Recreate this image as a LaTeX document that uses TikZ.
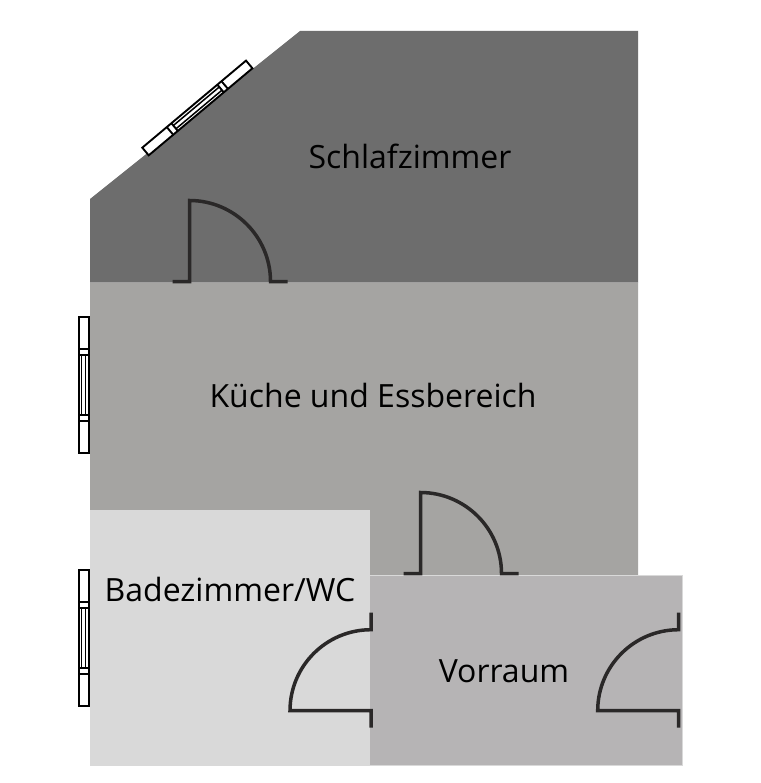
\documentclass[tikz,border=0pt]{standalone}
\usepackage{fontspec}
\setmainfont{Open Sans}
\definecolor{schlaf}{HTML}{6D6D6D}
\definecolor{kueche}{HTML}{A5A4A2}
\definecolor{bad}{HTML}{D9D9D9}
\definecolor{vor}{HTML}{B6B4B5}
\definecolor{ink}{HTML}{2A2828}
\tikzset{
  roomlabel/.style={font=\fontsize{32}{38}\selectfont, text=black, inner sep=0pt},
  doorline/.style={draw=ink, line width=3.5pt, line join=miter},
  winline/.style={draw=black, line width=1.9pt},
  wininner/.style={draw=black, line width=1.5pt},
  doorsym/.pic={
    \draw[doorline] (-17,0) -- (0,0) -- (0,-81) .. controls (44.7,-81) and (81,-44.7) .. (81,0) -- (98,0);
  },
  winsym/.pic={
    \fill[white] (0,-5) rectangle (135.4,5);
    \draw[winline] (0,-5) rectangle (135.4,5);
    \draw[winline] (32,-5) -- (32,5) (38,-5) -- (38,5) (98,-5) -- (98,5) (103.4,-5) -- (103.4,5);
    \draw[wininner] (38,-2) -- (98,-2) (38,2.2) -- (98,2.2);
  }
}
\begin{document}
\begin{tikzpicture}[x=1pt,y=-1pt]
\useasboundingbox (0,0) rectangle (760,783);
\fill[white] (0,0) rectangle (760,783);
% rooms
\fill[schlaf] (90,199) -- (300,31) -- (638,31) -- (638,282.5) -- (90,282.5) -- cycle;
\fill[kueche] (90,282.5) -- (638,282.5) -- (638,576) -- (370,576) -- (370,510) -- (90,510) -- cycle;
\fill[bad] (90,510) rectangle (370,766);
\draw[fill=vor, draw=bad, line width=0.8pt] (370,575.5) -- (682.5,575.5) -- (682.5,765.5) -- (370,765.5);
% doors
\pic at (189.5,281.5) {doorsym};
\pic at (420.5,573.5) {doorsym};
\pic[rotate=90] at (371,710.7) {doorsym};
\pic[rotate=90] at (678.7,710.7) {doorsym};
% windows
\pic[rotate=40] at (145.5,151.5) {winsym};
\pic[rotate=-90] at (83.6,317.3) {winsym};
\pic[rotate=-90] at (83.6,570.3) {winsym};
% labels
\node[roomlabel] (schlafzimmer) at (410,156) {Schlafzimmer};
\node[roomlabel] (kuechelabel) at (373,395) {Küche und Essbereich};
\node[roomlabel] (badlabel) at (230,589) {Badezimmer/WC};
\node[roomlabel] (vorraumlabel) at (504,671) {Vorraum};
\end{tikzpicture}
\end{document}
